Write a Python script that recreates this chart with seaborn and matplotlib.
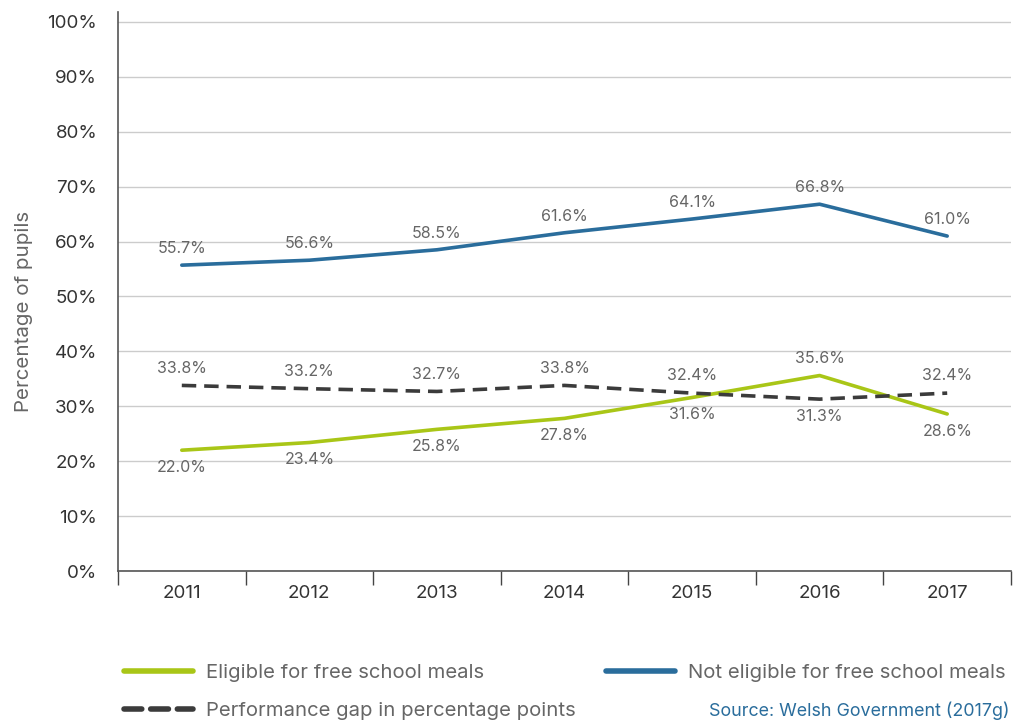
import matplotlib.pyplot as plt
from matplotlib.lines import Line2D
from matplotlib.ticker import FixedLocator, NullFormatter
import seaborn as sns
import numpy as np

years = ["2011", "2012", "2013", "2014", "2015", "2016", "2017"]
eligible = [22.0, 23.4, 25.8, 27.8, 31.6, 35.6, 28.6]
not_eligible = [55.7, 56.6, 58.5, 61.6, 64.1, 66.8, 61.0]
gap = [33.8, 33.2, 32.7, 33.8, 32.4, 31.3, 32.4]

# where each label sits relative to its point (+1 above, -1 below)
eligible_side = [-1, -1, -1, -1, -1, 1, -1]
gap_side = [1, 1, 1, 1, 1, -1, 1]

green = "#a9c617"
blue = "#2a6d9c"
dark = "#3b3b3b"
grey_text = "#666666"

sns.set_theme(style="white")
plt.rcParams["font.family"] = ["Inter", "DejaVu Sans"]

fig = plt.figure(figsize=(10.13, 7.24), dpi=100)
ax = fig.add_axes([0.1165, 0.2113, 0.8815, 0.7721])

x = np.arange(len(years))
sns.lineplot(x=x, y=not_eligible, ax=ax, color=blue, lw=2.6)
sns.lineplot(x=x, y=eligible, ax=ax, color=green, lw=2.6)
sns.lineplot(x=x, y=gap, ax=ax, color=dark, lw=2.6, linestyle=(0, (4, 2.2)))

ax.set_xlim(-0.5, 6.5)
ax.set_ylim(0, 101.8)

# y grid + ticks
ax.set_yticks(np.arange(0, 101, 10))
ax.set_yticklabels([f"{v}%" for v in range(0, 101, 10)])
ax.yaxis.grid(True, color="#cccccc", lw=1)
ax.tick_params(axis="y", length=13, color="#cccccc", width=1, labelsize=13.5, labelcolor="#333333", pad=2)

# x ticks: labels at centres, tick marks at the boundaries
ax.set_xticks(x)
ax.set_xticklabels(years)
ax.xaxis.set_minor_locator(FixedLocator(np.arange(-0.5, 7, 1)))
ax.xaxis.set_minor_formatter(NullFormatter())
ax.tick_params(axis="x", which="major", length=0, labelsize=13.5, labelcolor="#333333", pad=10)
ax.tick_params(axis="x", which="minor", length=10, color="#444444", width=1, bottom=True)

for s in ["top", "right"]:
    ax.spines[s].set_visible(False)
ax.spines["left"].set_color("#555555")
ax.spines["bottom"].set_color("#555555")
ax.spines["left"].set_linewidth(1.2)
ax.spines["bottom"].set_linewidth(1.2)

ax.set_ylabel("Percentage of pupils", fontsize=14.8, color=grey_text)
ax.yaxis.set_label_coords(-0.095, 0.465)

# data labels
for i, v in enumerate(not_eligible):
    ax.annotate(f"{v:.1f}%", (i, v), xytext=(0, 12), textcoords="offset points",
                ha="center", va="center", fontsize=11.5, color=grey_text)
for i, v in enumerate(eligible):
    ax.annotate(f"{v:.1f}%", (i, v), xytext=(0, 12.5 * eligible_side[i]), textcoords="offset points",
                ha="center", va="center", fontsize=11.5, color=grey_text)
for i, v in enumerate(gap):
    ax.annotate(f"{v:.1f}%", (i, v), xytext=(0, 12.5 * gap_side[i]), textcoords="offset points",
                ha="center", va="center", fontsize=11.5, color=grey_text)

# legend below the plot
h_elig = Line2D([], [], color=green, lw=4, solid_capstyle="round")
h_gap = Line2D([], [], color=dark, lw=4, linestyle=(0, (3.2, 1.6)), dash_capstyle="round")
h_not = Line2D([], [], color=blue, lw=4, solid_capstyle="round")
fig.legend([h_elig, h_gap, h_not],
           ["Eligible for free school meals", "Performance gap in percentage points",
            "Not eligible for free school meals"],
           ncol=2, loc="upper left", bbox_to_anchor=(0.104, 0.108), frameon=False,
           fontsize=14.6, labelcolor=grey_text, handlelength=3.4, handletextpad=0.65,
           columnspacing=1.5, labelspacing=0.95)

fig.text(0.997, 0.018, "Source: Welsh Government (2017g)", ha="right", va="center",
         fontsize=12.9, color=blue)

fig.savefig("out.png", dpi=100)
